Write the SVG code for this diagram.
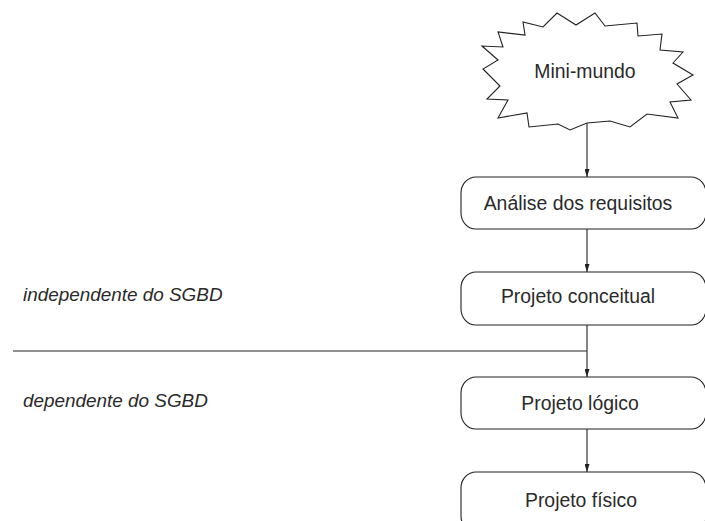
<svg xmlns="http://www.w3.org/2000/svg" width="705" height="521" viewBox="0 0 705 521">
  <style>
    .shape { fill: #ffffff; stroke: #222222; stroke-width: 1.1; }
    .edge { fill: none; stroke: #222222; stroke-width: 1.1; }
    .label { font-family: "Liberation Sans", Arial, sans-serif; font-size: 19.4px; fill: #2a2a2a; text-anchor: middle; }
    .note { font-family: "Liberation Sans", Arial, sans-serif; font-size: 18.9px; font-style: italic; fill: #2a2a2a; }
  </style>
  <defs>
    <marker id="arrow" viewBox="0 0 8 5" refX="8" refY="2.5" markerWidth="8" markerHeight="5" markerUnits="userSpaceOnUse" orient="auto">
      <path d="M0,0 L8,2.5 L0,5 Z" fill="#222222"/>
    </marker>
  </defs>
  <rect width="705" height="521" fill="#ffffff"/>

  <!-- flow connectors and the phase separator -->
  <g id="connectors">
    <line class="edge" x1="13" y1="351" x2="587" y2="351"/>
    <line class="edge" x1="587" y1="123" x2="587" y2="177" marker-end="url(#arrow)"/>
    <line class="edge" x1="587" y1="229" x2="587" y2="272" marker-end="url(#arrow)"/>
    <line class="edge" x1="587" y1="325" x2="587" y2="377" marker-end="url(#arrow)"/>
    <line class="edge" x1="587" y1="429" x2="587" y2="472" marker-end="url(#arrow)"/>
  </g>

  <g id="mini-mundo">
    <polygon class="shape" points="557,13 576,25 595,13 605,26 637,23 638,36 662,34 660,50 683,52 673,63 693,75 677,84 691,100 670,102 678,118 647,114 630,127 610,121 587,123 570,130 558,124 529,127 527,113 498,118 508,100 487,99 500,86 483,69 498,60 482,46 503,47 498,32 525,35 523,22 543,27"/>
    <text class="label" x="585" y="78">Mini-mundo</text>
  </g>

  <g id="analise-requisitos">
    <rect class="shape" x="461" y="177" width="245" height="52" rx="15" ry="16"/>
    <text class="label" x="578" y="210">Análise dos requisitos</text>
  </g>

  <g id="projeto-conceitual">
    <rect class="shape" x="461" y="272" width="245" height="53" rx="15" ry="16"/>
    <text class="label" x="578" y="303">Projeto conceitual</text>
  </g>

  <g id="projeto-logico">
    <rect class="shape" x="461" y="377" width="245" height="52" rx="15" ry="16"/>
    <text class="label" x="580" y="410">Projeto lógico</text>
  </g>

  <g id="projeto-fisico">
    <rect class="shape" x="461" y="472" width="245" height="60" rx="15" ry="16"/>
    <text class="label" x="581" y="507">Projeto físico</text>
  </g>

  <g id="phase-labels">
    <text class="note" x="23" y="301">independente do SGBD</text>
    <text class="note" x="23" y="407">dependente do SGBD</text>
  </g>
</svg>
